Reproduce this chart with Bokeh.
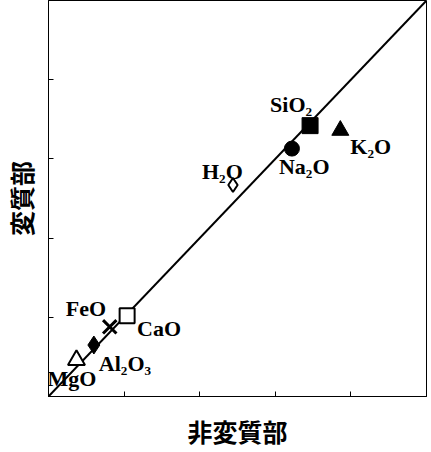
from bokeh.plotting import figure
from bokeh.models import ColumnDataSource, FixedTicker, Range1d, CustomLabelingPolicy
from bokeh.embed import file_html
from bokeh.resources import INLINE
from bokeh.core.properties import value

# ---- data ----
species = ["SiO₂", "K₂O", "Na₂O", "H₂O", "CaO", "FeO", "Al₂O₃", "MgO"]
unaltered = [3.46, 3.86, 3.22, 2.44, 1.04, 0.81, 0.60, 0.37]   # 非変質部
altered = [3.42, 3.36, 3.13, 2.67, 1.02, 0.88, 0.65, 0.46]     # 変質部
one_to_one = [0, 5]
tick_values = [0, 1, 2, 3, 4, 5]

# ---- styles ----
markers = ["square", "triangle", "circle", "diamond", "square", "x", "diamond", "triangle"]
fills = ["black", "black", "black", "white", "white", "black", "black", "white"]
sizes = [16, 17, 15, 14, 15, 19, 18, 17]
lws = [1, 1, 1, 2, 2, 3, 1, 2]
dx = [-40, 10, -13, -31, 10, -44, 5, -29]
dy = [-21, 16, 18, -14, 13, -18, 18, 18]

src = ColumnDataSource(dict(x=unaltered, y=altered, name=species, marker=markers,
                            fill=fills, size=sizes, lw=lws, dx=dx, dy=dy))

p = figure(frame_width=378, frame_height=396, output_backend="svg", toolbar_location=None,
           x_range=Range1d(0, 5), y_range=Range1d(0, 5),
           min_border_left=38, min_border_right=3, min_border_top=0, min_border_bottom=0)

p.grid.visible = False
p.outline_line_color = "black"
p.outline_line_width = 1
p.background_fill_color = "white"
p.border_fill_color = "white"

no_labels = CustomLabelingPolicy(code="""
    for (const i of indices) { indices.unset(i) }
    return indices
""")

for ax in (p.xaxis[0], p.yaxis[0]):
    ax.ticker = FixedTicker(ticks=tick_values)
    ax.major_label_policy = no_labels
    ax.major_tick_in = 5
    ax.major_tick_out = 0
    ax.minor_tick_line_color = None
    ax.major_label_standoff = 0
    ax.axis_line_color = "black"
    ax.major_tick_line_color = "black"
    ax.axis_label_text_font = "Noto Sans CJK JP"
    ax.axis_label_text_font_style = "bold"
    ax.axis_label_text_font_size = "25px"
    ax.axis_label_text_color = "black"

p.xaxis.axis_label = "非変質部"
p.yaxis.axis_label = "変質部"
p.xaxis.axis_label_standoff = 5
p.yaxis.axis_label_standoff = 0

p.line(one_to_one, one_to_one, line_color="black", line_width=2)

p.scatter(x="x", y="y", source=src, marker="marker", size="size",
          fill_color="fill", line_color="black", line_width="lw")

p.text(x="x", y="y", text="name", source=src, x_offset="dx", y_offset="dy",
       text_font=value("Liberation Serif"), text_font_style="bold",
       text_font_size="22px", text_align="left", text_baseline="middle",
       text_color="black")

open("out.html", "w").write(file_html(p, INLINE))
